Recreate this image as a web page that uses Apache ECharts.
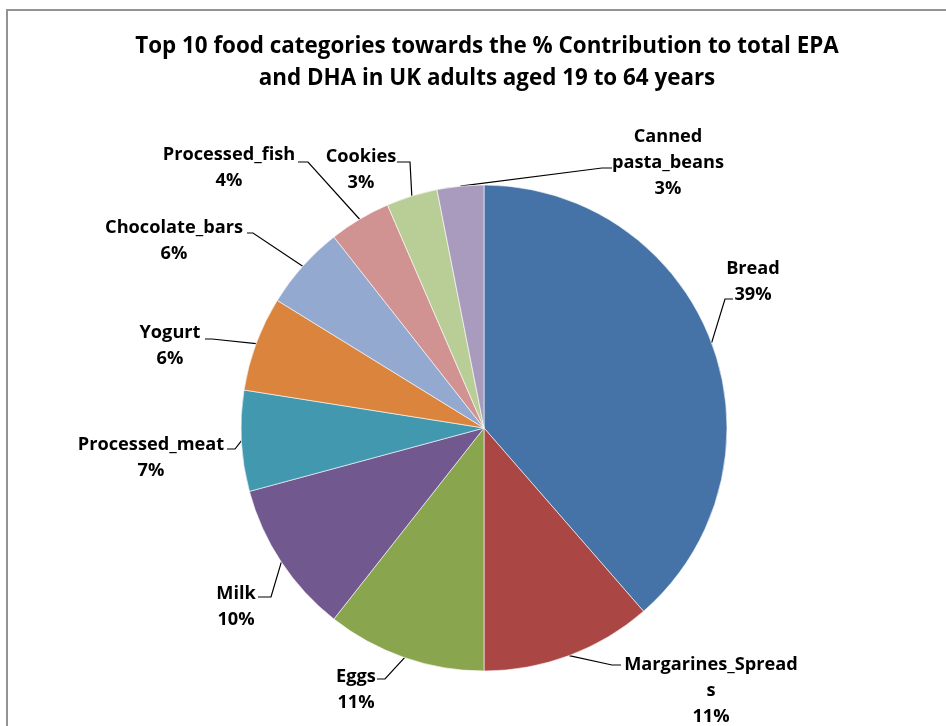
<!DOCTYPE html>
<html>
<head>
<meta charset="utf-8">
<title>EPA and DHA contribution by food category</title>
<script src="https://cdn.jsdelivr.net/npm/echarts@6/dist/echarts.min.js"></script>
<style>
  html, body { margin: 0; padding: 0; background: #ffffff; }
  #chart { width: 946px; height: 726px; }
</style>
</head>
<body>
<div id="chart"></div>
<script>
// Food categories, clockwise from 12 o'clock
const categories = [
  'Bread', 'Margarines_Spreads', 'Eggs', 'Milk', 'Processed_meat',
  'Yogurt', 'Chocolate_bars', 'Processed_fish', 'Cookies', 'Canned pasta_beans'
];
// % contribution to total EPA + DHA intake
const contribution = [38.6, 11.4, 10.6, 10.2, 6.7, 6.3, 5.6, 4.1, 3.4, 3.1];
const sliceColors = [
  '#4572A7', '#AA4643', '#89A54E', '#71588F', '#4198AF',
  '#DB843D', '#93A9CF', '#D19392', '#B9CD96', '#A99BBD'
];
const chartTitle = 'Top 10 food categories towards the % Contribution to total EPA\nand DHA in UK adults aged 19 to 64 years';

// Where each data label sits (text centre x, first line centre y) and how its leader bends
const labelSpots = [
  { cx: 753, y: 269, elbow: [725, 299], end: [733, 299] },
  { cx: 711, y: 665, elbow: [612, 665], end: [621, 665] },
  { cx: 356, y: 677, elbow: [385, 679], end: [377, 679] },
  { cx: 236, y: 594, elbow: [271, 597], end: [258, 597] },
  { cx: 151, y: 445, elbow: [235, 449], end: [227, 449] },
  { cx: 170, y: 333, elbow: [212, 339], end: [205, 339] },
  { cx: 174, y: 228, elbow: [253, 233], end: [247, 233] },
  { cx: 229, y: 155, elbow: [308, 162], end: [298, 162] },
  { cx: 361, y: 157, elbow: [410, 162], end: [397, 162] },
  { cx: 668, y: 137, elbow: [602, 168], end: [612, 168] }
];

const FONT = '"Open Sans", Lato, sans-serif';
const LABEL_LINE_H = 26;
const PIE_CX = 484, PIE_CY = 428, PIE_R = 243;

// Wrap a category name the way a narrow label box would
function wrapName(name, maxChars) {
  const out = [];
  let line = '';
  name.split(' ').forEach(function (word) {
    while (word.length > maxChars) {
      if (line) { out.push(line); line = ''; }
      out.push(word.slice(0, maxChars));
      word = word.slice(maxChars);
    }
    const candidate = line ? line + ' ' + word : word;
    if (candidate.length > maxChars) { out.push(line); line = word; }
    else { line = candidate; }
  });
  if (line) out.push(line);
  return out.join('\n');
}

// Point on the rim at the middle angle of slice i (start at 12 o'clock, clockwise)
const total = contribution.reduce(function (a, b) { return a + b; }, 0);
function rimPoint(i) {
  let before = 0;
  for (let k = 0; k < i; k++) before += contribution[k];
  const frac = (before + contribution[i] / 2) / total;
  const ang = frac * Math.PI * 2;
  return [PIE_CX + PIE_R * Math.sin(ang), PIE_CY - PIE_R * Math.cos(ang)];
}

const chart = echarts.init(document.getElementById('chart'), null, { renderer: 'canvas' });

chart.setOption({
  backgroundColor: '#ffffff',
  animation: false,
  color: sliceColors,
  title: {
    text: chartTitle,
    left: 482,
    top: 26,
    textAlign: 'center',
    textStyle: {
      fontFamily: FONT,
      fontWeight: 'bold',
      fontSize: 22.4,
      lineHeight: 32,
      color: '#000000'
    }
  },
  graphic: [{
    type: 'rect',
    shape: { x: 7, y: 10, width: 1000, height: 1000 },
    style: { fill: 'none', stroke: '#939393', lineWidth: 2 },
    silent: true
  }],
  series: [{
    type: 'pie',
    center: [PIE_CX, PIE_CY],
    radius: PIE_R,
    startAngle: 90,
    clockwise: true,
    avoidLabelOverlap: false,
    emphasis: { disabled: true },
    itemStyle: { borderColor: '#ffffff', borderWidth: 0.6 },
    label: {
      show: true,
      position: 'outside',
      fontFamily: FONT,
      fontWeight: 'bold',
      fontSize: 18.2,
      lineHeight: LABEL_LINE_H,
      color: '#000000',
      align: 'center',
      formatter: function (p) {
        return wrapName(p.name, 17) + '\n' + Math.round(p.value) + '%';
      }
    },
    labelLine: {
      show: true,
      length: 10,
      length2: 10,
      lineStyle: { color: '#000000', width: 1.2 }
    },
    labelLayout: function (params) {
      const i = params.dataIndex;
      const spot = labelSpots[i];
      return {
        x: spot.cx,
        y: spot.y - LABEL_LINE_H / 2,
        align: 'center',
        verticalAlign: 'top',
        labelLinePoints: [rimPoint(i), spot.elbow, spot.end]
      };
    },
    data: categories.map(function (name, i) {
      return { name: name, value: contribution[i] };
    })
  }]
});
</script>
</body>
</html>
